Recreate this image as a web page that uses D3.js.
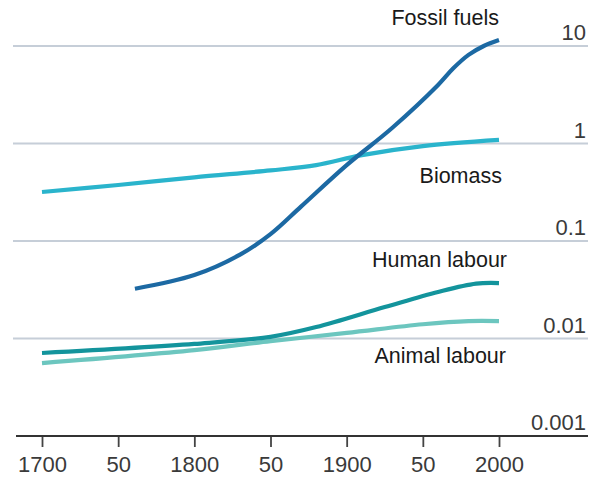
<!DOCTYPE html>
<html>
<head>
<meta charset="utf-8">
<script src="https://cdn.jsdelivr.net/npm/d3@7"></script>
<style>
  html, body { margin: 0; padding: 0; background: #ffffff; }
  svg text { font-family: "Liberation Sans", Arial, sans-serif; }
</style>
</head>
<body>
<svg id="chart" width="600" height="494"></svg>
<script>
// ---- Data ----
const xTickYears = [1700, 1750, 1800, 1850, 1900, 1950, 2000];
const xTickLabels = ["1700", "50", "1800", "50", "1900", "50", "2000"];
const yTickValues = [10, 1, 0.1, 0.01, 0.001];
const yTickLabels = ["10", "1", "0.1", "0.01", "0.001"];

const fossilYears  = [1761, 1800, 1830, 1850, 1870, 1900, 1930, 1960, 1970, 1980, 1990, 2000];
const fossilValues = [0.0324, 0.0447, 0.0724, 0.1175, 0.225, 0.6, 1.45, 3.98, 5.9, 8.1, 10.0, 11.5];

const biomassYears  = [1700, 1750, 1800, 1850, 1880, 1910, 1950, 2000];
const biomassValues = [0.318, 0.375, 0.45, 0.53, 0.60, 0.76, 0.94, 1.09];

const humanYears  = [1700, 1800, 1850, 1880, 1925, 1960, 1985, 2000];
const humanValues = [0.0071, 0.0088, 0.0104, 0.0131, 0.021, 0.030, 0.0365, 0.037];

const animalYears  = [1700, 1800, 1850, 1900, 1950, 1980, 2000];
const animalValues = [0.0056, 0.0076, 0.0094, 0.0114, 0.0140, 0.0151, 0.0151];

const seriesNames = ["Fossil fuels", "Biomass", "Human labour", "Animal labour"];

// ---- Layout ----
const svg = d3.select("#chart");
const x = d3.scaleLinear().domain([1700, 2000]).range([42, 499]);
const y = d3.scaleLog().domain([0.001, 10]).range([436, 46]);

// gridlines
svg.append("g")
  .selectAll("line")
  .data(yTickValues.filter(v => v > 0.001))
  .join("line")
  .attr("x1", 13).attr("x2", 588)
  .attr("y1", d => y(d)).attr("y2", d => y(d))
  .attr("stroke", "#c6ced8")
  .attr("stroke-width", 2);

// y tick labels
svg.append("g")
  .selectAll("text")
  .data(yTickValues)
  .join("text")
  .attr("x", 586)
  .attr("y", d => y(d) - 6)
  .attr("text-anchor", "end")
  .attr("font-size", 22)
  .attr("fill", "#3a3a3a")
  .text((d, i) => yTickLabels[i]);

// x axis
const xAxis = d3.axisBottom(x)
  .tickValues(xTickYears)
  .tickFormat((d, i) => xTickLabels[i])
  .tickSize(11)
  .tickSizeOuter(0)
  .tickPadding(9);
const gx = svg.append("g").attr("transform", "translate(0,436)").call(xAxis);
gx.select(".domain").remove();
gx.append("line").attr("x1", 16).attr("x2", 588).attr("y1", 0).attr("y2", 0)
  .attr("stroke", "#333").attr("stroke-width", 2.2);
gx.selectAll(".tick line").attr("stroke", "#444").attr("stroke-width", 1.8);
gx.selectAll(".tick text")
  .attr("font-size", 22)
  .attr("fill", "#3a3a3a")
  .attr("font-family", "'Liberation Sans', Arial, sans-serif");

// lines
const line = d3.line()
  .x(d => x(d[0]))
  .y(d => y(d[1]))
  .curve(d3.curveCatmullRom.alpha(0.5));

const series = [
  { years: animalYears, values: animalValues, color: "#6cc6bf" },
  { years: humanYears, values: humanValues, color: "#13949c" },
  { years: biomassYears, values: biomassValues, color: "#2ab4cc" },
  { years: fossilYears, values: fossilValues, color: "#1c69a3" }
];

svg.append("g")
  .selectAll("path")
  .data(series)
  .join("path")
  .attr("d", s => line(s.years.map((yr, i) => [yr, s.values[i]])))
  .attr("fill", "none")
  .attr("stroke", s => s.color)
  .attr("stroke-width", 4.2)
  .attr("stroke-linecap", "butt")
  .attr("stroke-linejoin", "round");

// series labels
const labelPos = [
  { x: 499, y: 25 },
  { x: 502, y: 183 },
  { x: 507, y: 267 },
  { x: 506, y: 363 }
];
svg.append("g")
  .selectAll("text")
  .data(seriesNames)
  .join("text")
  .attr("x", (d, i) => labelPos[i].x)
  .attr("y", (d, i) => labelPos[i].y)
  .attr("text-anchor", "end")
  .attr("font-size", 21.5)
  .attr("fill", "#1a1a1a")
  .text(d => d);
</script>
</body>
</html>
